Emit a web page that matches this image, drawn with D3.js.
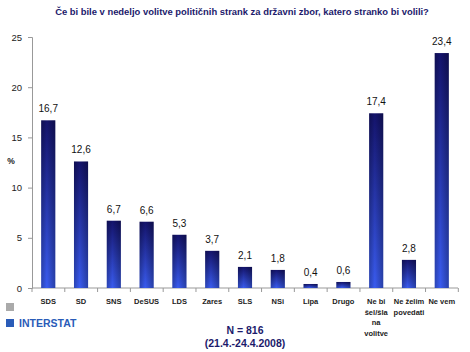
<!DOCTYPE html>
<html>
<head>
<meta charset="utf-8">
<script src="https://cdn.jsdelivr.net/npm/d3@7/dist/d3.min.js"></script>
<style>
  body { margin: 0; background: #fff; }
  svg { display: block; font-family: "Liberation Sans", Arial, sans-serif; }
  .axis path, .axis line { stroke: #999; }
  .axis text { fill: #222; }
</style>
</head>
<body>
<div id="chart"></div>
<script>
// Data
const categories = ["SDS", "SD", "SNS", "DeSUS", "LDS", "Zares", "SLS", "NSi", "Lipa", "Drugo",
                    "Ne bi|šel/šla|na|volitve", "Ne želim|povedati", "Ne vem"];
const values = [16.7, 12.6, 6.7, 6.6, 5.3, 3.7, 2.1, 1.8, 0.4, 0.6, 17.4, 2.8, 23.4];
const yTicks = [0, 5, 10, 15, 20, 25];

const W = 470, H = 352;
const margin = { top: 37, right: 12, bottom: 64, left: 32 };
const width = W - margin.left - margin.right;
const height = H - margin.top - margin.bottom;

const svg = d3.select("#chart").append("svg")
    .attr("width", W)
    .attr("height", H);

// bar gradient
const defs = svg.append("defs");
const grad = defs.append("linearGradient")
    .attr("id", "barGrad")
    .attr("x1", 0).attr("y1", 0).attr("x2", 0).attr("y2", 1);
grad.append("stop").attr("offset", "0%").attr("stop-color", "#14136b");
grad.append("stop").attr("offset", "100%").attr("stop-color", "#3a5cf0");

const hgrad = defs.append("linearGradient")
    .attr("id", "barShade")
    .attr("x1", 0).attr("y1", 0).attr("x2", 1).attr("y2", 0);
hgrad.append("stop").attr("offset", "0%").attr("stop-color", "#000").attr("stop-opacity", 0.25);
hgrad.append("stop").attr("offset", "40%").attr("stop-color", "#000").attr("stop-opacity", 0);
hgrad.append("stop").attr("offset", "100%").attr("stop-color", "#000").attr("stop-opacity", 0.3);

// Title - fit to the width it takes in the original
const title = svg.append("text")
    .attr("x", 242)
    .attr("y", 15)
    .attr("text-anchor", "middle")
    .style("font-family", "'Liberation Sans Narrow', 'Liberation Sans', sans-serif")
    .style("font-size", "10px")
    .style("font-weight", "bold")
    .style("fill", "#1c1a6b")
    .text("Če bi bile v nedeljo volitve političnih strank za državni zbor, katero stranko bi volili?");
const tw = title.node().getComputedTextLength();
title.style("font-size", Math.min(11, 10 * 374 / tw) + "px");

const g = svg.append("g")
    .attr("transform", `translate(${margin.left},${margin.top})`);

const x = d3.scaleBand()
    .domain(categories)
    .range([0, width])
    .paddingInner(0.57)
    .paddingOuter(0.28);

const y = d3.scaleLinear()
    .domain([0, 25])
    .range([height, 0]);

// Y axis
const yAxis = g.append("g")
    .attr("class", "axis")
    .call(d3.axisLeft(y).tickValues(yTicks).tickSize(4).tickPadding(6));
yAxis.selectAll("text").style("font-size", "9.5px");

// X axis with ticks between categories
const xAxisG = g.append("g")
    .attr("class", "axis")
    .attr("transform", `translate(0,${height})`);
xAxisG.append("line")
    .attr("x1", 0).attr("x2", width)
    .attr("stroke", "#999");
const step = x.step();
const bounds = d3.range(categories.length + 1).map(i => i * step);
xAxisG.selectAll(".tk")
    .data(bounds)
    .enter().append("line")
    .attr("x1", d => d).attr("x2", d => d)
    .attr("y1", 0).attr("y2", 4)
    .attr("stroke", "#999");

const labels = xAxisG.selectAll(".cat")
    .data(categories)
    .enter().append("text")
    .attr("text-anchor", "middle")
    .attr("x", d => x(d) + x.bandwidth() / 2)
    .attr("y", 16)
    .style("font-size", "7.5px")
    .style("font-weight", "bold")
    .style("fill", "#222");
labels.each(function(d) {
    const t = d3.select(this);
    d.split("|").forEach((line, i) => {
        t.append("tspan")
            .attr("x", x(d) + x.bandwidth() / 2)
            .attr("dy", i === 0 ? 0 : 10.5)
            .text(line);
    });
});

// Bars
const bars = g.selectAll(".bar")
    .data(values)
    .enter().append("g");
bars.append("rect")
    .attr("x", (d, i) => x(categories[i]))
    .attr("y", d => y(d))
    .attr("width", x.bandwidth())
    .attr("height", d => height - y(d))
    .attr("fill", "url(#barGrad)");
bars.append("rect")
    .attr("x", (d, i) => x(categories[i]))
    .attr("y", d => y(d))
    .attr("width", x.bandwidth())
    .attr("height", d => height - y(d))
    .attr("fill", "url(#barShade)");

// Value labels
g.selectAll(".val")
    .data(values)
    .enter().append("text")
    .attr("x", (d, i) => x(categories[i]) + x.bandwidth() / 2)
    .attr("y", d => y(d) - 8)
    .attr("text-anchor", "middle")
    .style("font-size", "10px")
    .style("fill", "#111")
    .text(d => d.toFixed(1).replace(".", ","));

// % label
svg.append("text")
    .attr("x", 11)
    .attr("y", 164)
    .attr("text-anchor", "middle")
    .style("font-size", "8.5px")
    .style("font-weight", "bold")
    .style("fill", "#222")
    .text("%");

// Legend
svg.append("rect")
    .attr("x", 6).attr("y", 303).attr("width", 8).attr("height", 8)
    .attr("fill", "#aaa");
svg.append("rect")
    .attr("x", 6).attr("y", 319).attr("width", 8).attr("height", 8)
    .attr("fill", "#2a5cb8");
svg.append("text")
    .attr("x", 19).attr("y", 327)
    .style("font-size", "10.5px")
    .style("font-weight", "bold")
    .style("fill", "#2a5cb8")
    .text("INTERSTAT");

// N note
svg.append("text")
    .attr("x", 245).attr("y", 334)
    .attr("text-anchor", "middle")
    .style("font-size", "10.5px")
    .style("font-weight", "bold")
    .style("fill", "#1c1a6b")
    .text("N = 816");
svg.append("text")
    .attr("x", 245).attr("y", 347)
    .attr("text-anchor", "middle")
    .style("font-size", "10.5px")
    .style("font-weight", "bold")
    .style("fill", "#1c1a6b")
    .text("(21.4.-24.4.2008)");
</script>
</body>
</html>
